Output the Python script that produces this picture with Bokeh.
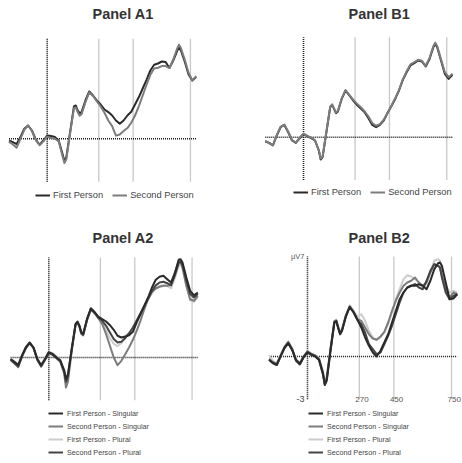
from bokeh.plotting import figure
from bokeh.layouts import column, row
from bokeh.models import Range1d, Legend, LegendItem
from bokeh.embed import file_html
from bokeh.resources import INLINE
from bokeh.core.properties import value

FONT = "Liberation Sans"

# ---------------- data ----------------
times_ms = [-200, -180, -160, -140, -120, -100, -80, -60, -40, -20,
            0, 20, 40, 60, 80, 90, 100, 120, 140, 150,
            160, 170, 180, 200, 220, 240, 260, 280, 300, 320,
            340, 360, 380, 400, 420, 440, 460, 480, 500, 520,
            540, 560, 580, 600, 620, 640, 660, 680, 690, 700,
            720, 740, 760, 780]

a1_first = [-0.12, -0.23, -0.37, 0.12, 0.70, 0.93, 0.58, -0.05, -0.42, -0.12,
            0.23, 0.19, 0.12, -0.12, -1.05, -1.55, -1.30, 0.47, 2.26, 2.33,
            1.98, 1.80, 1.87, 2.68, 3.31, 3.03, 2.68, 2.40, 2.05, 1.87,
            1.63, 1.28, 1.05, 1.28, 1.63, 1.89, 2.40, 2.92, 3.52, 4.13,
            4.78, 5.18, 5.27, 5.41, 5.37, 4.95, 5.48, 6.14, 6.42, 6.18,
            5.41, 4.50, 4.08, 4.32]
a1_second = [-0.20, -0.40, -0.62, 0.00, 0.62, 0.93, 0.55, -0.10, -0.45, -0.18,
             0.15, 0.05, 0.00, -0.18, -1.20, -1.70, -1.45, 0.40, 2.15, 2.20,
             1.85, 1.62, 1.72, 2.55, 3.25, 3.00, 2.62, 2.26, 1.82, 1.28,
             0.89, 0.22, 0.30, 0.54, 0.75, 1.12, 1.63, 2.29, 3.03, 3.78,
             4.48, 4.92, 4.97, 5.09, 5.09, 4.95, 5.55, 6.30, 6.58, 6.35,
             5.55, 4.62, 4.08, 4.39]

b1_first = [-0.30, -0.40, -0.58, 0.12, 0.70, 0.86, 0.35, -0.23, -0.40, -0.07,
            0.23, 0.07, -0.07, -0.23, -0.93, -1.56, -1.40, 0.35, 2.10, 2.26,
            1.98, 1.68, 1.80, 2.68, 3.27, 2.92, 2.57, 2.26, 2.00, 1.75,
            1.33, 0.86, 0.70, 0.86, 1.17, 1.70, 2.17, 2.68, 3.27, 4.01,
            4.55, 5.02, 5.18, 5.37, 5.30, 4.95, 5.48, 6.30, 6.53, 6.30,
            5.37, 4.43, 4.08, 4.36]
b1_second = [-0.25, -0.42, -0.55, 0.15, 0.72, 0.88, 0.38, -0.20, -0.38, -0.05,
             0.25, 0.10, -0.03, -0.20, -0.90, -1.50, -1.35, 0.40, 2.15, 2.30,
             2.02, 1.72, 1.85, 2.72, 3.30, 2.97, 2.63, 2.35, 2.10, 1.82,
             1.45, 1.00, 0.80, 0.92, 1.22, 1.70, 2.20, 2.72, 3.30, 4.05,
             4.62, 5.10, 5.25, 5.42, 5.35, 5.00, 5.55, 6.38, 6.62, 6.38,
             5.45, 4.55, 4.20, 4.45]

a2_first_sing = [-0.10, -0.30, -0.52, 0.15, 0.72, 1.05, 0.70, -0.10, -0.55, -0.10,
                 0.38, 0.25, 0.02, -0.20, -0.88, -1.50, -1.20, 0.62, 2.35, 2.52,
                 2.25, 1.78, 1.66, 2.70, 3.45, 3.18, 2.85, 2.68, 2.52, 2.26,
                 1.94, 1.52, 1.40, 1.47, 1.55, 1.80, 2.45, 3.03, 3.62, 4.20,
                 4.90, 5.44, 5.65, 5.72, 5.48, 5.25, 5.90, 6.84, 6.88, 6.65,
                 5.60, 4.67, 4.36, 4.55]
a2_second_sing = [-0.18, -0.42, -0.68, 0.08, 0.65, 1.00, 0.65, -0.18, -0.65, -0.18,
                  0.30, 0.18, -0.05, -0.30, -1.10, -2.10, -1.70, 0.45, 2.25, 2.45,
                  2.15, 1.65, 1.55, 2.60, 3.35, 3.10, 2.75, 2.33, 1.63, 0.82,
                  0.00, -0.54, -0.23, 0.23, 0.70, 1.24, 1.87, 2.57, 3.38, 4.08,
                  4.60, 4.83, 4.95, 5.02, 5.02, 5.13, 5.95, 6.77, 6.70, 6.30,
                  5.02, 4.08, 3.97, 4.32]
a2_first_plur = [-0.05, -0.28, -0.50, 0.18, 0.75, 1.00, 0.65, -0.05, -0.50, -0.05,
                 0.40, 0.30, 0.08, -0.15, -0.85, -1.45, -1.15, 0.60, 2.28, 2.45,
                 2.18, 1.70, 1.58, 2.62, 3.35, 3.10, 2.75, 2.35, 1.90, 1.35,
                 0.95, 0.80, 1.00, 1.50, 1.70, 2.00, 2.50, 3.00, 3.55, 4.05,
                 4.50, 4.85, 5.00, 5.05, 5.00, 4.85, 5.55, 6.40, 6.50, 6.20,
                 5.05, 4.00, 3.90, 4.25]
a2_second_plur = [-0.15, -0.38, -0.62, 0.10, 0.68, 1.02, 0.68, -0.15, -0.60, -0.15,
                  0.32, 0.20, -0.03, -0.25, -0.98, -1.70, -1.35, 0.55, 2.30, 2.48,
                  2.20, 1.72, 1.60, 2.65, 3.40, 3.12, 2.78, 2.57, 2.22, 1.75,
                  1.30, 1.05, 1.10, 1.35, 1.70, 2.10, 2.60, 3.10, 3.60, 4.15,
                  4.65, 5.05, 5.25, 5.30, 5.20, 5.05, 5.75, 6.60, 6.70, 6.45,
                  5.40, 4.45, 4.20, 4.45]

b2_first_sing = [-0.22, -0.45, -0.58, 0.02, 0.60, 0.95, 0.48, -0.26, -0.52, -0.03,
                 0.30, 0.13, 0.02, -0.22, -1.18, -1.95, -1.65, 0.45, 2.40, 2.48,
                 2.00, 1.58, 1.84, 2.82, 3.47, 3.10, 2.58, 2.03, 1.33, 0.75,
                 0.28, 0.00, 0.40, 0.98, 1.56, 2.38, 3.20, 4.01, 4.48, 4.83,
                 4.95, 4.95, 5.06, 4.95, 4.71, 5.30, 6.10, 6.53, 6.58, 6.35,
                 5.18, 4.01, 4.06, 4.36]
b2_second_sing = [-0.15, -0.40, -0.50, 0.08, 0.66, 1.00, 0.54, -0.20, -0.46, 0.03,
                  0.36, 0.19, 0.08, -0.16, -1.06, -1.78, -1.52, 0.56, 2.46, 2.53,
                  2.06, 1.64, 1.90, 2.88, 3.52, 3.15, 2.63, 2.50, 2.03, 1.56,
                  1.26, 1.17, 1.40, 1.73, 2.38, 3.20, 3.90, 4.48, 4.95, 5.18,
                  5.30, 5.53, 5.18, 4.95, 5.18, 5.88, 6.46, 6.35, 6.20, 5.65,
                  4.71, 4.13, 4.48, 4.36]
b2_first_plur = [0.10, -0.30, -0.45, 0.12, 0.72, 1.08, 0.58, -0.30, -0.60, -0.05,
                 0.38, 0.22, 0.10, -0.12, -1.00, -1.70, -1.45, 0.60, 2.50, 2.58,
                 2.10, 1.68, 1.95, 2.92, 3.58, 3.20, 2.80, 2.96, 2.50, 1.80,
                 1.33, 1.17, 1.33, 1.68, 2.26, 3.08, 4.01, 4.71, 5.41, 5.69,
                 5.60, 5.41, 5.18, 4.95, 5.06, 5.88, 6.70, 6.81, 6.70, 6.11,
                 4.95, 4.48, 4.60, 4.48]
b2_second_plur = [-0.25, -0.48, -0.60, 0.00, 0.58, 0.92, 0.46, -0.28, -0.55, -0.05,
                  0.28, 0.12, 0.00, -0.25, -1.22, -2.00, -1.70, 0.42, 2.36, 2.45,
                  1.98, 1.55, 1.80, 2.80, 3.45, 3.08, 2.55, 2.26, 1.68, 0.86,
                  0.51, 0.16, 0.28, 0.86, 1.45, 2.15, 2.96, 3.78, 4.48, 4.83,
                  4.95, 5.07, 4.83, 4.71, 5.30, 6.00, 6.46, 6.35, 6.25, 5.53,
                  4.48, 4.01, 4.25, 4.36]

onset_ms = [0]
window_ms = [270, 450, 750]
tick_labels = ["270", "450", "750 ms"]
volt_min, volt_max = -3, 7
volt_labels = ["\u00b5V7", "-3"]

labels_1 = ["First Person", "Second Person"]
labels_2 = ["First Person - Singular", "Second Person - Singular",
            "First Person - Plural", "Second Person - Plural"]

C_FIRST = "#2a2a2a"
C_SECOND = "#7c7c7c"
C_FIRST_PL = "#cdcdcd"
C_SECOND_PL = "#444444"


def base_panel(title, width, height, xr, yr, top_border, title_offset, standoff):
    p = figure(width=width, height=height,
               x_range=Range1d(*xr), y_range=Range1d(*yr),
               output_backend="svg", toolbar_location=None,
               x_axis_location=None, y_axis_location=None,
               min_border_left=0, min_border_right=0,
               min_border_bottom=0, min_border_top=top_border,
               title=title)
    p.grid.grid_line_color = None
    p.outline_line_color = None
    p.background_fill_color = "white"
    p.border_fill_color = "white"
    p.title.text_font = FONT
    p.title.text_font_size = "14.5px"
    p.title.text_font_style = "bold"
    p.title.text_color = "#333333"
    p.title.align = "left"
    p.title.offset = title_offset
    p.title.vertical_align = "top"
    p.title.standoff = standoff
    # window lines
    p.segment(x0=window_ms, x1=window_ms, y0=[volt_min] * 3, y1=[volt_max] * 3,
              line_color="#c9c9c9", line_width=1.3)
    # onset dotted line
    p.segment(x0=onset_ms, x1=onset_ms, y0=[volt_min], y1=[volt_max],
              line_color="#1a1a1a", line_width=1.6, line_dash="1 1")
    # baseline dotted line
    p.segment(x0=[times_ms[0]], x1=[times_ms[-1]], y0=[0], y1=[0],
              line_color="#1a1a1a", line_width=1.6, line_dash="1 1")
    return p


def add_lines(p, series, colors):
    rs = []
    for ys, c in zip(series, colors):
        rs.append(p.line(times_ms, ys, line_color=c, line_width=2.0,
                         line_join="round"))
    return rs


def add_legend(p, labels, renderers, loc, orientation, size, gh, spacing, standoff):
    items = [LegendItem(label=l, renderers=[r]) for l, r in zip(labels, renderers)]
    lg = Legend(items=items, orientation=orientation, location=loc,
                glyph_width=15, glyph_height=gh, label_standoff=standoff,
                spacing=spacing, padding=0, margin=0,
                border_line_color=None, background_fill_alpha=0,
                label_text_font=FONT, label_text_font_size=size,
                label_text_color="#444444", label_height=gh)
    p.add_layout(lg)


W = 231
H_TOP = 226
H_BOT = 236

a1 = base_panel("Panel A1", W, H_TOP, (-244.5, 964.9), (-6.14, 7.79), 27, 92, 8)
r = add_lines(a1, [a1_first, a1_second], [C_FIRST, C_SECOND])
add_legend(a1, labels_1, r, (35, 25), "horizontal", "9.3px", 12, 9, 3)

b1 = base_panel("Panel B1", W, H_TOP, (-377.0, 832.5), (-6.25, 7.68), 27, 117, 8)
r = add_lines(b1, [b1_first, b1_second], [C_FIRST, C_SECOND])
add_legend(b1, labels_1, r, (62, 28), "horizontal", "9.3px", 12, 9, 3)

a2 = base_panel("Panel A2", W, H_BOT, (-252.9, 956.5), (-7.35, 7.56), 23, 92, 4)
r_fp, r_ss, r_sp, r_fs = add_lines(
    a2, [a2_first_plur, a2_second_sing, a2_second_plur, a2_first_sing],
    [C_FIRST_PL, C_SECOND, C_SECOND_PL, C_FIRST])
add_legend(a2, labels_2, [r_fs, r_ss, r_fp, r_sp], (48, 5), "vertical", "7.2px", 10, 3, 4)

b2 = base_panel("Panel B2", W, H_BOT, (-395.8, 807.3), (-7.42, 7.49), 23, 117, 4)
r_fp, r_ss, r_sp, r_fs = add_lines(
    b2, [b2_first_plur, b2_second_sing, b2_second_plur, b2_first_sing],
    [C_FIRST_PL, C_SECOND, C_SECOND_PL, C_FIRST])
add_legend(b2, labels_2, [r_fs, r_ss, r_fp, r_sp], (77, 5), "vertical", "7.2px", 10, 3, 4)

# axis annotations in panel B2
b2.text(x=window_ms, y=[volt_min] * 3, text=tick_labels, text_align="left",
        text_baseline="middle", x_offset=-4, text_font=value(FONT),
        text_font_size="8px", text_color="#555555")
b2.text(x=onset_ms, y=[volt_max], text=[volt_labels[0]], text_align="right",
        text_baseline="middle", x_offset=-3, text_font=value(FONT),
        text_font_size="7.5px", text_color="#555555")
b2.text(x=onset_ms, y=[volt_min], text=[volt_labels[1]], text_align="right",
        text_baseline="middle", x_offset=-3, text_font=value(FONT),
        text_font_size="9px", text_color="#444444")

layout = column(row(a1, b1), row(a2, b2))
open("out.html", "w").write(file_html(layout, INLINE))
